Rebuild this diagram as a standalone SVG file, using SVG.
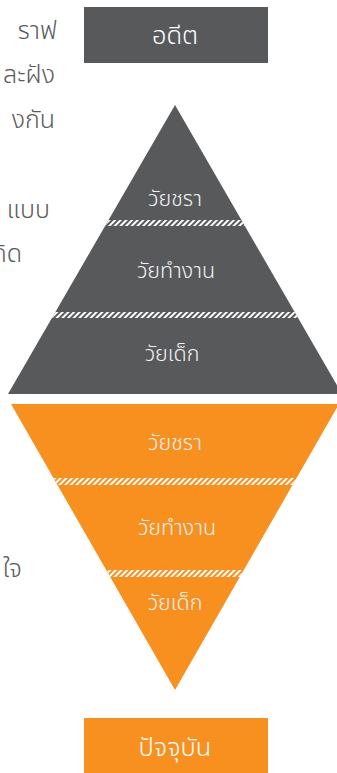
<svg xmlns="http://www.w3.org/2000/svg" width="337" height="773" viewBox="0 0 337 773">
<style>
.side{font-family:"Noto Sans Thai","Noto Sans","DejaVu Sans",sans-serif;font-size:25px;font-weight:300;fill:#5a5a5c;text-anchor:end}
.lbl{font-family:"Noto Sans Thai","Noto Sans","DejaVu Sans",sans-serif;font-size:21.5px;font-weight:300;fill:#f2f2f2;text-anchor:middle}
.big{font-family:"Noto Sans Thai","Noto Sans","DejaVu Sans",sans-serif;font-size:25.5px;font-weight:300;fill:#ffffff;text-anchor:middle}
.gray{fill:#58595b}
.orange{fill:#f7901e}
</style>
<defs>
<pattern id="hatch" patternUnits="userSpaceOnUse" width="4" height="4" patternTransform="rotate(45)">
<rect x="0" y="0" width="2" height="4" fill="#ffffff"/>
</pattern>
<clipPath id="ctop"><polygon points="175,105 8,394 342,394"/></clipPath>
<clipPath id="cbot"><polygon points="11,404 339,404 175,690"/></clipPath>
</defs>
<g id="side-text">
<text class="side" x="57" y="39">ราฟ</text>
<text class="side" x="55" y="83">ละฝัง</text>
<text class="side" x="55" y="128">งกัน</text>
<text class="side" x="50" y="218">แบบ</text>
<text class="side" x="22" y="262">กิด</text>
<text class="side" x="22" y="577">ใจ</text>
</g>
<g id="past">
<rect class="gray" x="84" y="7" width="184" height="56"/>
<text class="big" x="175" y="44">อดีต</text>
</g>
<g id="top-pyramid">
<polygon class="gray" points="175,105 8,394 342,394"/>
<g clip-path="url(#ctop)">
<rect x="0" y="220" width="337" height="6" fill="url(#hatch)"/>
<rect x="0" y="312" width="337" height="6" fill="url(#hatch)"/>
</g>
<text class="lbl" x="175" y="206">วัยชรา</text>
<text class="lbl" x="176" y="278">วัยทำงาน</text>
<text class="lbl" x="172" y="361">วัยเด็ก</text>
</g>
<g id="bottom-pyramid">
<polygon class="orange" points="11,404 339,404 175,690"/>
<g clip-path="url(#cbot)">
<rect x="0" y="478" width="337" height="7" fill="url(#hatch)"/>
<rect x="0" y="570" width="337" height="7" fill="url(#hatch)"/>
</g>
<text class="lbl" x="175" y="450">วัยชรา</text>
<text class="lbl" x="177" y="535">วัยทำงาน</text>
<text class="lbl" x="175" y="610">วัยเด็ก</text>
</g>
<g id="present">
<rect class="orange" x="84" y="718" width="184" height="55"/>
<text class="big" x="175" y="756">ปัจจุบัน</text>
</g>
<g id="connectors"/>
</svg>
